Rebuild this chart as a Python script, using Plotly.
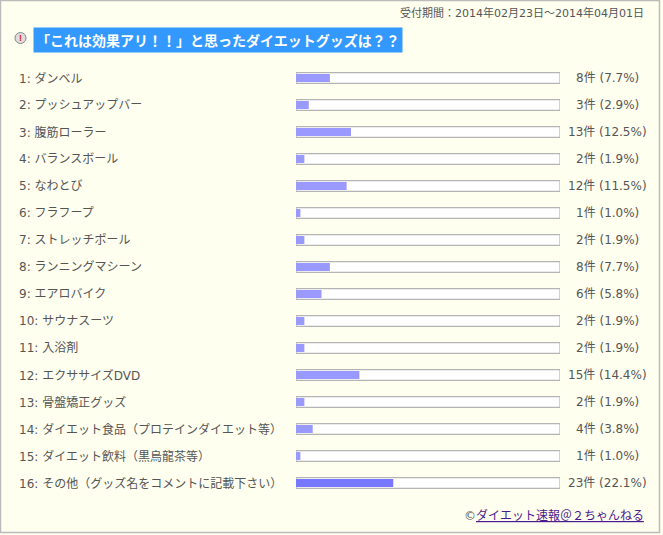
import plotly.graph_objects as go

W, H = 663, 535

items = [
    "ダンベル", "プッシュアップバー", "腹筋ローラー", "バランスボール", "なわとび",
    "フラフープ", "ストレッチポール", "ランニングマシーン", "エアロバイク", "サウナスーツ",
    "入浴剤", "エクササイズDVD", "骨盤矯正グッズ", "ダイエット食品（プロテインダイエット等）",
    "ダイエット飲料（黒烏龍茶等）", "その他（グッズ名をコメントに記載下さい）",
]
counts = [8, 3, 13, 2, 12, 1, 2, 8, 6, 2, 2, 15, 2, 4, 1, 23]
percents = [7.7, 2.9, 12.5, 1.9, 11.5, 1.0, 1.9, 7.7, 5.8, 1.9, 1.9, 14.4, 1.9, 3.8, 1.0, 22.1]
scale_max = 60  # the track stands for 0-60%

title = "「これは効果アリ！！」と思ったダイエットグッズは？？"
period = "受付期間：2014年02月23日～2014年04月01日"
credit = "ダイエット速報＠２ちゃんねる"

font = "DejaVu Sans, Noto Sans CJK JP"
cjk = "Noto Sans CJK JP"
text_col = "#555555"

def px(x):
    return x / W

def py(y):
    return 1 - y / H

rows = list(range(len(items)))
top_max = max(counts)
fill_cols = ["#7777ff" if c == top_max else "#9999ff" for c in counts]

fig = go.Figure()

# track
fig.add_trace(go.Bar(
    x=[scale_max] * len(items), y=rows, orientation="h", width=0.4,
    marker=dict(color="white", line=dict(color="#b4b4b4", width=1.2)),
    hoverinfo="skip", showlegend=False,
))
# fill
fig.add_trace(go.Bar(
    x=percents, y=rows, orientation="h", width=0.3,
    marker=dict(color=fill_cols, line=dict(width=0)),
    showlegend=False,
))

fig.update_layout(
    width=W, height=H,
    margin=dict(l=0, r=0, t=0, b=0),
    paper_bgcolor="#fffff0",
    plot_bgcolor="rgba(0,0,0,0)",
    barmode="overlay",
    font=dict(family=font, size=12, color=text_col),
    xaxis=dict(domain=[px(296), px(560)], range=[0, scale_max], visible=False, fixedrange=True),
    yaxis=dict(domain=[py(496.5), py(64.5)], range=[len(items) - 0.5, -0.5],
               visible=False, fixedrange=True),
)

ann = []
for i, (name, c, p) in enumerate(zip(items, counts, percents)):
    ann.append(dict(x=px(17), y=i, xref="paper", yref="y", xanchor="left", yanchor="middle",
                    text=f"{i + 1}: {name}", showarrow=False))
    ann.append(dict(x=px(607), y=i, xref="paper", yref="y", xanchor="center", yanchor="middle",
                    text=f"{c}件 ({p}%)", showarrow=False))

ann.append(dict(x=px(646), y=py(13), xref="paper", yref="paper", xanchor="right", yanchor="middle",
                text=period, showarrow=False, font=dict(size=11)))
ann.append(dict(x=px(33), y=py(40), xref="paper", yref="paper", xanchor="left", yanchor="middle",
                text=f"<b>{title}</b>", showarrow=False, bgcolor="#3399ff", borderpad=2,
                font=dict(size=14, color="white", family=cjk)))
ann.append(dict(x=px(20.5), y=py(38), xref="paper", yref="paper", xanchor="center", yanchor="middle",
                text="<b>!</b>", showarrow=False, font=dict(size=9, color="#dd2222", family="Arial")))
ann.append(dict(x=px(646), y=py(515), xref="paper", yref="paper", xanchor="right", yanchor="middle",
                text=f"©<span style='color:#4b1a8c'><u>{credit}</u></span>",
                showarrow=False, font=dict(size=12)))
fig.update_layout(annotations=ann)

fig.update_layout(shapes=[
    dict(type="rect", xref="paper", yref="paper", x0=px(0.5), x1=px(659.5), y0=py(532.5), y1=py(0.5),
         line=dict(color="#bbbbbb", width=1.5), layer="below"),
    dict(type="circle", xref="paper", yref="paper", x0=px(15), x1=px(26), y0=py(43.5), y1=py(32.5),
         fillcolor="#dddddd", line=dict(color="#888888", width=1), layer="below"),
])

fig.write_html("out.html", config={"displayModeBar": False},
               post_script="document.body.style.margin='0';")
